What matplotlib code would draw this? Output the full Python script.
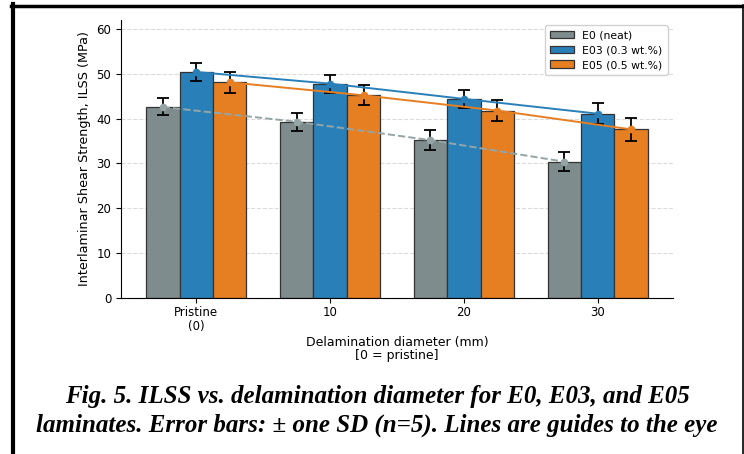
import numpy as np
import matplotlib.pyplot as plt
from matplotlib.lines import Line2D

# data
categories = ["Pristine\n(0)", "10", "20", "30"]
e0_mean = [42.6, 39.3, 35.2, 30.4]
e0_sd = [1.9, 2.0, 2.2, 2.1]
e03_mean = [50.4, 47.8, 44.4, 41.1]
e03_sd = [2.1, 2.0, 2.0, 2.3]
e05_mean = [48.1, 45.2, 41.8, 37.6]
e05_sd = [2.3, 2.2, 2.3, 2.6]

labels = ["E0 (neat)", "E03 (0.3 wt.%)", "E05 (0.5 wt.%)"]
colors = ["#7f8c8d", "#2980b9", "#e67e22"]

fig = plt.figure(figsize=(7.44, 4.54), dpi=100)
ax = fig.add_axes([0.1626, 0.3436, 0.742, 0.6124])

x = np.arange(len(categories))
w = 0.25

series = [(e0_mean, e0_sd), (e03_mean, e03_sd), (e05_mean, e05_sd)]
for i, (m, sd) in enumerate(series):
    ax.bar(
        x + (i - 1) * w,
        m,
        w,
        yerr=sd,
        color=colors[i],
        edgecolor="#333333",
        linewidth=0.9,
        label=labels[i],
        error_kw=dict(ecolor="black", elinewidth=1.3, capsize=4, capthick=1.3),
        zorder=2,
    )

# guide lines
ax.plot(x - w, e0_mean, color="#95a5a6", linestyle="--", lw=1.4, marker="o", ms=4.5, zorder=3)
ax.plot(x, e03_mean, color=colors[1], lw=1.4, marker="o", ms=4.5, zorder=3)
ax.plot(x + w, e05_mean, color=colors[2], lw=1.4, marker="o", ms=4.5, zorder=3)

ax.set_ylim(0, 62)
ax.set_xticks(x)
ax.set_xticklabels(categories, fontsize=8.5, linespacing=1.05)
ax.tick_params(axis="y", labelsize=8.5)
ax.tick_params(axis="x", pad=2.5)
ax.set_ylabel("Interlaminar Shear Strength, ILSS (MPa)", fontsize=9.2)
ax.set_xlabel("Delamination diameter (mm)\n[0 = pristine]", fontsize=9, labelpad=2, linespacing=1.05)
ax.grid(axis="y", linestyle="--", color="#cccccc", alpha=0.7, lw=0.8)
ax.set_axisbelow(True)
ax.spines["top"].set_visible(False)
ax.spines["right"].set_visible(False)
ax.legend(loc="upper right", fontsize=7.8, framealpha=0.9, handlelength=2.2,
          labelspacing=0.45, borderpad=0.45)

# caption
fig.text(
    0.507, 0.094,
    "Fig. 5. ILSS vs. delamination diameter for E0, E03, and E05\n"
    "laminates. Error bars: \u00b1 one SD (n=5). Lines are guides to the eye",
    ha="center", va="center", fontsize=18, family="Liberation Serif",
    weight="bold", style="italic", linespacing=1.3,
)

# black frame
H = 454.0
W = 744.0
fig.add_artist(Line2D([12.5 / W, 12.5 / W], [0, 1 - 4 / H], color="black", lw=3, transform=fig.transFigure))
fig.add_artist(Line2D([10.5 / W, 1], [1 - 5.5 / H, 1 - 5.5 / H], color="black", lw=2.5, transform=fig.transFigure))
fig.add_artist(Line2D([742.5 / W, 742.5 / W], [0, 1 - 5 / H], color="black", lw=1.2, transform=fig.transFigure))

fig.savefig("out.png", dpi=100)
